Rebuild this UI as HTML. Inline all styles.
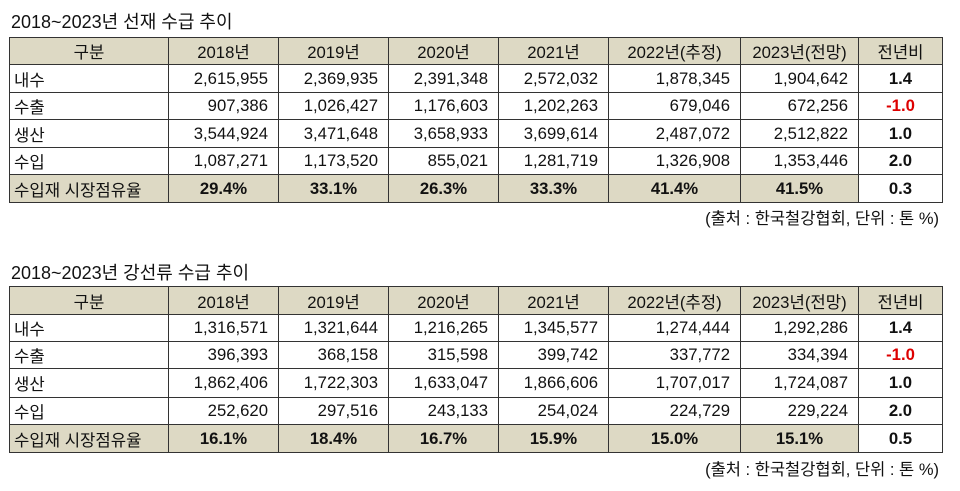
<!DOCTYPE html>
<html><head><meta charset="utf-8"><style>
body{margin:0;width:960px;height:491px;background:#fff;position:relative;overflow:hidden;font-family:"Liberation Sans","Noto Sans CJK KR",sans-serif;color:#111}
.t{position:absolute;left:11px;font-size:18px;}
table{position:absolute;left:9px;border-collapse:collapse;table-layout:fixed;width:933px}
td{border:1px solid #333;font-size:16.7px;padding:0 10px 0 4px;text-align:right;white-space:nowrap;overflow:hidden}
td.l{text-align:left;padding-left:4px}
tr.h td{background:#ddd9c4;text-align:center;padding:0}
tr.s td{background:#ddd9c4;font-weight:bold;text-align:center;padding:0}
tr.s td.l{font-weight:normal;text-align:left;padding-left:4px}
td.c{text-align:center;font-weight:bold;background:#fff!important;padding:0}
.r{color:#d00}
.n{position:absolute;right:21px;font-size:16.5px}
</style></head><body>
<div class="t" style="top:8px">2018~2023년 선재 수급 추이</div>
<table style="top:37px">
<colgroup><col style="width:159px"><col style="width:110px"><col style="width:110px"><col style="width:110px"><col style="width:110px"><col style="width:132px"><col style="width:118px"><col style="width:84px"></colgroup>
<tr class="h" style="height:27px"><td>구분</td><td>2018년</td><td>2019년</td><td>2020년</td><td>2021년</td><td>2022년(추정)</td><td>2023년(전망)</td><td>전년비</td></tr>
<tr style="height:28px"><td class="l">내수</td><td>2,615,955</td><td>2,369,935</td><td>2,391,348</td><td>2,572,032</td><td>1,878,345</td><td>1,904,642</td><td class="c">1.4</td></tr>
<tr style="height:27px"><td class="l">수출</td><td>907,386</td><td>1,026,427</td><td>1,176,603</td><td>1,202,263</td><td>679,046</td><td>672,256</td><td class="c r">-1.0</td></tr>
<tr style="height:28px"><td class="l">생산</td><td>3,544,924</td><td>3,471,648</td><td>3,658,933</td><td>3,699,614</td><td>2,487,072</td><td>2,512,822</td><td class="c">1.0</td></tr>
<tr style="height:27px"><td class="l">수입</td><td>1,087,271</td><td>1,173,520</td><td>855,021</td><td>1,281,719</td><td>1,326,908</td><td>1,353,446</td><td class="c">2.0</td></tr>
<tr class="s" style="height:28px"><td class="l">수입재 시장점유율</td><td>29.4%</td><td>33.1%</td><td>26.3%</td><td>33.3%</td><td>41.4%</td><td>41.5%</td><td class="c">0.3</td></tr>
</table>
<div class="n" style="top:205px">(출처 : 한국철강협회, 단위 : 톤 %)</div>

<div class="t" style="top:259px">2018~2023년 강선류 수급 추이</div>
<table style="top:286px">
<colgroup><col style="width:159px"><col style="width:110px"><col style="width:110px"><col style="width:110px"><col style="width:110px"><col style="width:132px"><col style="width:118px"><col style="width:84px"></colgroup>
<tr class="h" style="height:28px"><td>구분</td><td>2018년</td><td>2019년</td><td>2020년</td><td>2021년</td><td>2022년(추정)</td><td>2023년(전망)</td><td>전년비</td></tr>
<tr style="height:27px"><td class="l">내수</td><td>1,316,571</td><td>1,321,644</td><td>1,216,265</td><td>1,345,577</td><td>1,274,444</td><td>1,292,286</td><td class="c">1.4</td></tr>
<tr style="height:27px"><td class="l">수출</td><td>396,393</td><td>368,158</td><td>315,598</td><td>399,742</td><td>337,772</td><td>334,394</td><td class="c r">-1.0</td></tr>
<tr style="height:29px"><td class="l">생산</td><td>1,862,406</td><td>1,722,303</td><td>1,633,047</td><td>1,866,606</td><td>1,707,017</td><td>1,724,087</td><td class="c">1.0</td></tr>
<tr style="height:27px"><td class="l">수입</td><td>252,620</td><td>297,516</td><td>243,133</td><td>254,024</td><td>224,729</td><td>229,224</td><td class="c">2.0</td></tr>
<tr class="s" style="height:28px"><td class="l">수입재 시장점유율</td><td>16.1%</td><td>18.4%</td><td>16.7%</td><td>15.9%</td><td>15.0%</td><td>15.1%</td><td class="c">0.5</td></tr>
</table>
<div class="n" style="top:456px">(출처 : 한국철강협회, 단위 : 톤 %)</div>
</body></html>
